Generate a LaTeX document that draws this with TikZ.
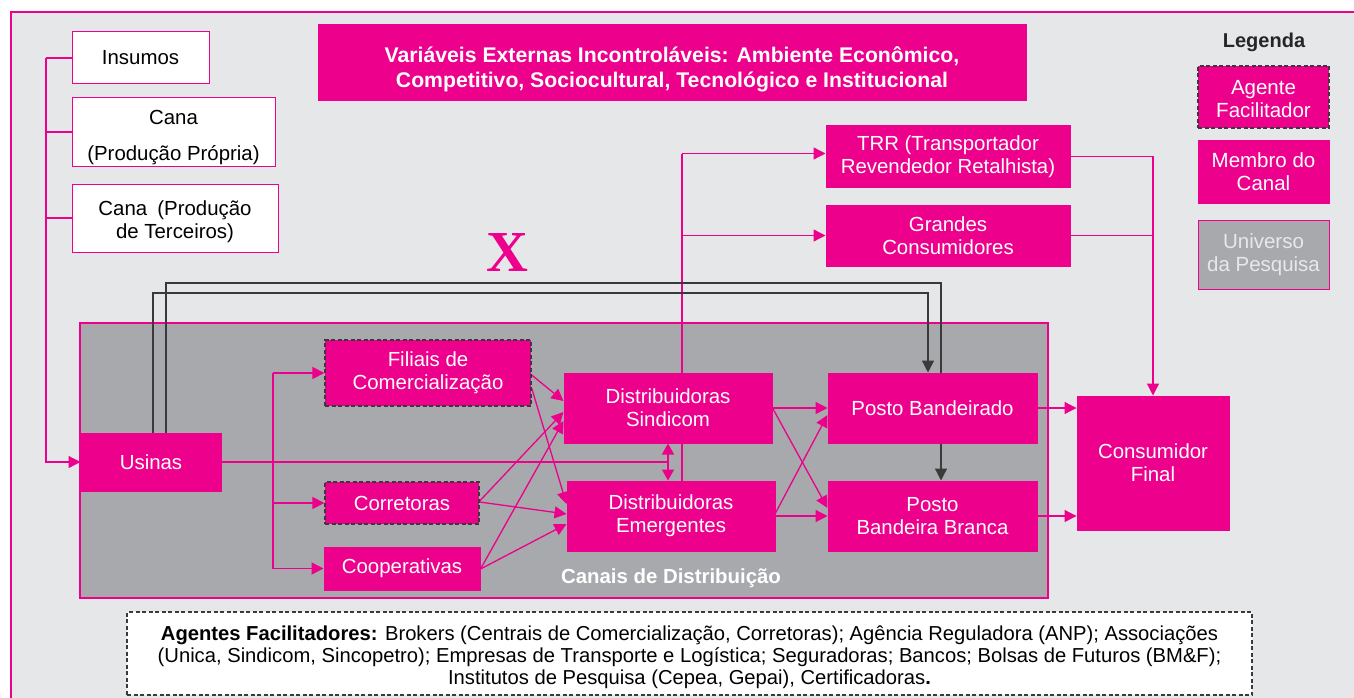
\documentclass[tikz,border=0pt]{standalone}
\usepackage{fontspec}
\setmainfont{Liberation Sans}
\newfontfamily\serifx{Liberation Serif}
\usetikzlibrary{arrows.meta}
\definecolor{mag}{HTML}{EC008C}
\definecolor{bgg}{HTML}{E6E7E8}
\definecolor{pan}{HTML}{A7A9AC}
\definecolor{dk}{HTML}{3A3A3A}
\definecolor{lt}{HTML}{E8E8EA}
\pgfdeclarelayer{bg}
\pgfdeclarelayer{lines}
\pgfsetlayers{bg,lines,main}
\begin{document}
\begin{tikzpicture}[x=1pt,y=-1pt,
  txt/.style={font=\fontsize{20.4}{23}\selectfont},
  box/.style={txt, draw=mag, fill=mag, line width=1pt, text=white, align=center, inner sep=0pt},
  wbox/.style={txt, draw=mag, fill=white, line width=1pt, text=black, align=center, inner sep=0pt},
  fac/.style={box, draw=dk, dash pattern=on 4pt off 2.5pt, line width=1.3pt},
  pl/.style={draw=mag, line width=1.3pt},
  pa/.style={pl, -{Triangle[length=12pt,width=12pt]}},
  bl/.style={draw=dk, line width=1.3pt},
  ba/.style={bl, -{Triangle[length=12pt,width=12pt]}},
]
\path[use as bounding box] (0,0) rectangle (1354,698);
\clip (0,0) rectangle (1354,698);
\begin{pgfonlayer}{bg}
\fill[white] (0,0) rectangle (1354,698);
\draw[draw=mag, fill=bgg, line width=1.5pt] (11,12) rectangle (1400,760);
\node[draw=mag, fill=pan, line width=1.3pt, minimum width=968, minimum height=275, inner sep=0pt] (panel) at (564,460.5) {};
\end{pgfonlayer}

% inputs
\node[wbox, minimum width=137, minimum height=52] (ins) at (140.5,58) {Insumos};
\node[wbox, minimum width=203, minimum height=68] (canap) at (173.5,132) {\rule{0pt}{26pt}Cana\\[13pt](Produção Própria)};
\node[wbox, minimum width=206, minimum height=68] (canat) at (175,218) {\rule{0pt}{22pt}Cana\enspace(Produção\\de Terceiros)};

% title
\node[box, minimum width=708, minimum height=76, font=\bfseries\fontsize{21.2}{25}\selectfont] (title) at (672,63)
  {\rule{0pt}{27.5pt}Variáveis Externas Incontroláveis: Ambiente Econômico,\\Competitivo, Sociocultural, Tecnológico e Institucional};

% channel
\node[box, minimum width=140, minimum height=58] (usinas) at (151,462) {Usinas};
\node[fac, minimum width=206, minimum height=66] (fil) at (428,373) {Filiais de\\Comercialização};
\node[fac, minimum width=154, minimum height=42] (cor) at (402,503) {Corretoras};
\node[box, minimum width=156, minimum height=43] (coop) at (402,568.5) {Cooperativas};
\node[box, minimum width=208, minimum height=70] (sind) at (668,408) {Distribuidoras\\Sindicom};
\node[box, minimum width=208, minimum height=70] (emer) at (671,516) {Distribuidoras\\Emergentes};
\node[box, minimum width=244, minimum height=61] (trr) at (948,156.5) {TRR (Transportador\\Revendedor Retalhista)};
\node[box, minimum width=244, minimum height=61] (gc) at (948,235.5) {Grandes\\Consumidores};
\node[box, minimum width=209, minimum height=70] (pb) at (932.5,408) {Posto Bandeirado};
\node[box, minimum width=209, minimum height=70] (pbb) at (932.5,516) {Posto\\Bandeira Branca};
\node[box, minimum width=152, minimum height=134] (cf) at (1153,463) {Consumidor\\Final};
\node[font=\bfseries\fontsize{20.4}{23}\selectfont, text=white] (canais) at (671,578) {Canais de Distribuição};
\node[text=mag, font=\serifx\bfseries\fontsize{58}{60}\selectfont, inner sep=0pt] (xx) at (507,253) {X};

% legend
\node[font=\bfseries\fontsize{20}{23}\selectfont, text=black!85] (leg) at (1264,42) {Legenda};
\node[fac, minimum width=131, minimum height=62, font=\fontsize{20.5}{23}\selectfont] (lga) at (1263.5,97) {\rule{0pt}{19pt}Agente\\Facilitador};
\node[box, minimum width=131, minimum height=62, font=\fontsize{20.5}{23}\selectfont] (lgm) at (1263.5,172) {Membro do\\Canal};
\node[box, fill=pan, text=lt, minimum width=131, minimum height=69, font=\fontsize{20.5}{23}\selectfont] (lgu) at (1263.5,254.5) {Universo\\da Pesquisa};

% bottom
\node[draw=dk, fill=white, dash pattern=on 4pt off 2.5pt, line width=1.2pt, minimum width=1125, minimum height=83, inner sep=0pt, align=center, font=\fontsize{20.2}{22}\selectfont] (agf) at (689.5,653.5)
  {\rule{0pt}{22pt}\textbf{Agentes Facilitadores:} Brokers (Centrais de Comercialização, Corretoras); Agência Reguladora (ANP); Associações\\
   (Unica, Sindicom, Sincopetro); Empresas de Transporte e Logística; Seguradoras; Bancos; Bolsas de Futuros (BM\&F);\\
   Institutos de Pesquisa (Cepea, Gepai), Certificadoras\textbf{.}};

\begin{pgfonlayer}{lines}
% left bus
\coordinate (lb) at (46,58);
\draw[pl] (ins.west) -- (ins.west -| lb);
\draw[pa] (ins.west -| lb) |- (usinas.west);
\draw[pl] (canap.west) -- (canap.west -| lb);
\draw[pl] (canat.west) -- (canat.west -| lb);
% usinas to distribuidoras
\coordinate (da) at (668,462);
\draw[pl] (usinas.east) -- (usinas.east -| da);
\draw[pl, {Triangle[length=11pt,width=12pt]}-{Triangle[length=11pt,width=12pt]}] (sind.south -| da) -- (emer.north -| da);
% bus to agents
\coordinate (vb) at (273,0);
\draw[pl] (vb |- fil.west) -- (vb |- coop.west);
\draw[pa] (vb |- fil.west) -- (fil.west);
\draw[pa] (vb |- cor.west) -- (cor.west);
\draw[pa] (vb |- coop.west) -- (coop.west);
% agents to distribuidoras
\draw[pa] (fil.east |- 0,375) -- (sind.west |- 0,401);
\draw[pa] (fil.east |- 0,388) -- (emer.west |- 0,504);
\draw[pa] (cor.east |- 0,501) -- (sind.west |- 0,412);
\draw[pa] (cor.east |- 0,502) -- (emer.west |- 0,514);
\draw[pa] (coop.east |- 0,569) -- (sind.west |- 0,421);
\draw[pa] (coop.east |- 0,569) -- (emer.west |- 0,524);
% distribuidoras to postos
\draw[pa] (sind.east) -- (pb.west);
\draw[pa] (sind.east) -- (pbb.west |- 0,508);
\draw[pa] (emer.east) -- (pbb.west);
\draw[pa] (emer.east |- 0,513) -- (pb.west |- 0,415);
% up bus
\coordinate (ub) at (682,153.5);
\draw[pl] (emer.north -| ub) -- (ub);
\draw[pa] (ub) -- (trr.west |- ub);
\draw[pa] (ub |- gc.west) -- (gc.west);
% right bus
\draw[pa] (trr.east) -| (cf.north);
\draw[pl] (gc.east) -- (gc.east -| cf.north);
\draw[pa] (pb.east) -- (cf.west |- pb.east);
\draw[pa] (pbb.east) -- (cf.west |- pbb.east);
% black lines
\coordinate (ka) at (153,293); \coordinate (kb) at (928,293);
\coordinate (kc) at (166,283); \coordinate (kd) at (941,283);
\draw[ba] (usinas.north -| ka) -- (ka) -- (kb) -- (pb.north -| kb);
\draw[bl] (usinas.north -| kc) -- (kc) -- (kd) -- (pb.north -| kd);
\draw[ba] (pb.south -| kd) -- (pbb.north -| kd);
\end{pgfonlayer}
\end{tikzpicture}
\end{document}
